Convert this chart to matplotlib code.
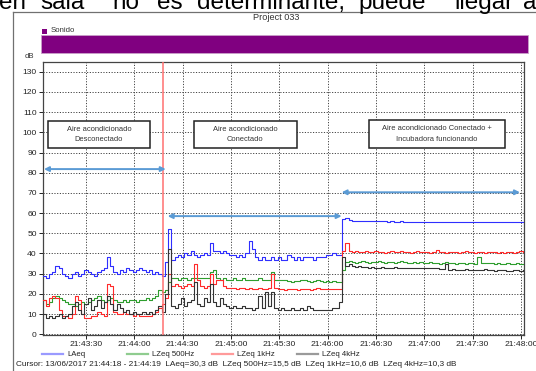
import numpy as np
import matplotlib
matplotlib.use("Agg")
import matplotlib.pyplot as plt
from matplotlib.patches import Rectangle
from matplotlib.lines import Line2D

plt.rcParams['font.family'] = ['Liberation Sans', 'DejaVu Sans']

# ---------------- data (seconds after 21:43:00) ----------------
seg_bounds = [(3, 77), (79, 187), (189, 301)]

laeq_1 = [29, 28, 30, 31, 34, 33, 30, 29, 28, 30, 31, 29, 30, 32, 31, 30, 29, 31, 32, 33,
          38, 34, 31, 30, 32, 31, 33, 32, 31, 32, 33, 32, 31, 32, 30, 31, 30, 29]
laeq_2 = [36, 52, 37, 38, 39, 38, 40, 39, 41, 39, 38, 39, 40, 39, 45, 41, 41, 40, 41, 40,
          39, 39, 38, 39, 38, 40, 46, 42, 38, 37, 38, 37, 37, 38, 37, 38, 37, 37, 39, 38,
          37, 38, 37, 38, 38, 38, 37, 38, 38, 38, 39, 39, 40, 39, 39]
laeq_3 = [57, 57.5, 56.5, 56, 56.2, 56, 56, 56.1, 56, 55.9, 56, 56, 55.9, 56, 55.8, 55.9,
          55.8, 55.8, 55.9, 55.8, 55.7, 55.8, 55.7, 55.8, 55.7, 55.7, 55.6, 55.7, 55.8, 55.7,
          55.6, 55.6, 55.7, 55.6, 55.6, 55.7, 55.6, 55.5, 55.6, 55.5, 55.6, 55.5, 55.5, 55.6,
          55.5, 55.5, 55.4, 55.5, 55.5, 55.4, 55.5, 55.4, 55.4, 55.5, 55.4, 55.4, 55.4]

z500_1 = [17, 15, 16, 18, 19, 18, 17, 16, 15, 15, 14, 15, 16, 15, 16, 17, 18, 19, 17, 16,
          17, 18, 17, 16, 16, 17, 16, 17, 17, 16, 17, 17, 18, 17, 18, 19, 22, 21]
z500_2 = [22, 26, 28, 28, 27, 28, 28, 27, 28, 28, 28, 28, 28, 28, 31, 32, 28, 27, 28, 27,
          27, 28, 27, 27, 28, 27, 27, 27, 27, 28, 27, 27, 27, 31, 27, 27, 27, 27, 26.5, 26,
          26.5, 26.5, 27, 27, 26.5, 26, 26.5, 27, 26.5, 26, 26.5, 26, 26.5, 26, 26]
z500_3 = [32, 36, 36.5, 36, 35.5, 36, 36.5, 36, 35.5, 36, 36, 36.5, 36, 35.5, 36, 36, 35.5,
          36, 36.5, 36, 35.5, 35.5, 36, 35.5, 36, 35.5, 35.5, 36, 35.5, 35.5, 35, 35.5, 36,
          35.5, 35.5, 35, 35.5, 35.5, 35, 35.5, 35.5, 35, 38, 35.5, 35.5, 35.5, 35.5, 35,
          35.5, 35, 35, 35.5, 35, 35, 35.5, 35, 35]

z1k_1 = [17, 14, 18, 19, 18, 12, 9, 9, 8, 10, 19, 17, 10, 8, 8, 9, 9, 11, 10, 9,
         25, 24, 11, 10, 10, 11, 10, 10, 9, 10, 9, 9, 9, 9, 10, 11, 13, 15]
z1k_2 = [18, 30, 24, 25, 24, 23, 24, 25, 24, 35, 27, 24, 23, 24, 30, 25, 27, 27, 24, 23,
         23, 23, 22.5, 23, 23, 22.5, 23, 22.5, 22.5, 23, 22.5, 22.5, 23, 30, 23, 22.5, 22.5,
         22, 22.5, 22.5, 22.5, 22, 22.5, 22.5, 22.5, 22, 22.5, 23, 22.5, 22.5, 22.5, 22.5,
         22.5, 22.5, 22.5]
z1k_3 = [41, 45, 41, 40.5, 41, 40.5, 40.5, 41, 40.5, 40.5, 41, 40.5, 40.5, 40, 40.5, 41,
         40.5, 40.5, 41, 40.5, 40.5, 40, 40.5, 41, 40.5, 40.5, 40.5, 40, 40.5, 41.5, 40.5,
         40.5, 40, 40.5, 40.5, 40.5, 40, 40.5, 41, 40.5, 40.5, 40, 40.5, 40.5, 40, 40.5,
         40.5, 40.5, 40, 40.5, 40, 40.5, 40.5, 40, 40.5, 41, 40.5]

z4k_1 = [10, 8, 9, 8, 9, 10, 8, 9, 10, 14, 16, 12, 10, 15, 18, 12, 14, 17, 13, 16,
         19, 15, 12, 15, 13, 11, 12, 10, 11, 10, 10, 11, 10, 11, 10, 12, 14, 11]
z4k_2 = [20, 42, 14, 13, 15, 18, 14, 16, 17, 26, 15, 14, 18, 16, 25, 16, 14, 18, 15, 14,
         13, 14, 13, 13, 14, 13, 13, 12, 13, 19, 13, 21, 14, 21, 13, 12, 13, 12, 12, 13,
         12, 12, 13, 12, 14, 13, 12, 12, 12, 12, 12, 12, 13, 13, 16]
z4k_3 = [38, 34, 35, 34, 33.5, 34, 33.5, 33.5, 33, 33.5, 33, 33, 33.5, 33, 33, 33, 33.5,
         33, 33, 33, 33, 33, 33, 33, 33, 33, 33, 33, 33, 33, 32.5, 32.5, 35, 32, 32.5, 32,
         32, 32, 32.5, 32, 32, 32, 32, 32, 32.5, 32, 32, 31.5, 32, 32, 32, 31.5, 31.5, 32,
         32, 31.5, 32]

series_names = ['LAeq', 'LZeq 500Hz', 'LZeq 1kHz', 'LZeq 4kHz']
series_segments = [[laeq_1, laeq_2, laeq_3], [z500_1, z500_2, z500_3],
                   [z1k_1, z1k_2, z1k_3], [z4k_1, z4k_2, z4k_3]]
line_colors = ['#2f2fff', '#2e9e2e', '#ff2a2a', '#333333']
legend_colors = ['#9a9aff', '#8fcc8f', '#ff9a9a', '#9a9a9a']

tick_secs = [30, 60, 90, 120, 150, 180, 210, 240, 270, 300]
tick_labels = ['21:43:30', '21:44:00', '21:44:30', '21:45:00', '21:45:30',
               '21:46:00', '21:46:30', '21:47:00', '21:47:30', '21:48:00']
cursor_sec = 78
cursor_text = ("Cursor: 13/06/2017 21:44:18 - 21:44:19  LAeq=30,3 dB  LZeq 500Hz=15,5 dB  "
               "LZeq 1kHz=10,6 dB  LZeq 4kHz=10,3 dB")

boxes = [((6.2, 92.2), (69.9, 105.6), "Aire acondicionado\nDesconectado"),
         ((97.0, 92.2), (160.8, 105.6), "Aire acondicionado\nConectado"),
         ((205.9, 92.2), (290.1, 105.9), "Aire acondicionado Conectado +\nIncubadora funcionando")]
arrows = [(3.9, 79.5, 81.8), (80.7, 188.7, 58.5), (188.7, 299.4, 70.3)]

# ---------------- figure ----------------
W, H = 536, 371
fig = plt.figure(figsize=(W / 100, H / 100), dpi=100)
fig.patch.set_facecolor('white')


def fx(x):
    return x / W


def fy(y):
    return 1 - y / H


# partial document text at top
words = ["en", "sala", "no", "es", "determinante,", "puede", "llegar", "a"]
word_x = [-1, 40, 112, 157, 197, 358, 454, 523]
for w, x in zip(words, word_x):
    fig.text(fx(x), fy(9), w, fontsize=17.5, va='baseline', ha='left', color='black')

# outer panel frame
fig.add_artist(Line2D([fx(13), fx(13)], [fy(12), fy(372)], color='#707070', lw=0.9))
fig.add_artist(Line2D([fx(13), fx(537)], [fy(12), fy(12)], color='#707070', lw=0.9))

fig.text(fx(276), fy(17), "Project 033", fontsize=6.6, ha='center', va='center', color='#333333')

# Sonido legend and bar
fig.add_artist(Rectangle((fx(42), fy(33.5)), 5 / W, 4.5 / H, facecolor='#800080',
                         edgecolor='none', transform=fig.transFigure))
fig.text(fx(51), fy(31), "Sonido", fontsize=5.6, ha='left', va='center', color='#333333')
fig.add_artist(Rectangle((fx(41), fy(53)), (528 - 41) / W, 18 / H, facecolor='#800080',
                         edgecolor='#c9a0c9', lw=0.6, transform=fig.transFigure))
fig.text(fx(29), fy(57), "dB", fontsize=5.6, ha='center', va='center', color='#333333')

# main axes
ax = fig.add_axes([fx(43), fy(335), (524.3 - 43) / W, (335 - 61.7) / H])
for name, segs, c in zip(series_names, series_segments, line_colors):
    ts, vs = [], []
    for (a, b), v in zip(seg_bounds, segs):
        ts.append(np.linspace(a, b, len(v)))
        vs.append(np.asarray(v, dtype=float))
    ax.plot(np.concatenate(ts), np.concatenate(vs), color=c, lw=0.8,
            drawstyle='steps-post', zorder=3)

ax.axvline(cursor_sec, color='#ff7070', lw=1.1, zorder=4)

ax.set_xlim(3.3, 302.1)
ax.set_ylim(-0.4, 135)
ax.set_xticks(tick_secs)
ax.set_xticklabels(tick_labels)
ax.set_yticks(np.arange(0, 131, 10))
ax.tick_params(axis='both', labelsize=6.1, colors='#222222', length=3, width=0.7, pad=1.5)
ax.grid(True, color='#444444', lw=0.7, linestyle=(0, (1.2, 1.6)))
ax.set_axisbelow(True)
for s in ax.spines.values():
    s.set_color('#444444')
    s.set_linewidth(0.9)

for (x0, y0), (x1, y1), txt in boxes:
    ax.add_patch(Rectangle((x0, y0), x1 - x0, y1 - y0, facecolor='white',
                           edgecolor='#222222', lw=1.1, zorder=5))
    ax.text((x0 + x1) / 2, (y0 + y1) / 2, txt, ha='center', va='center',
            fontsize=5.4, color='#333333', linespacing=1.75, zorder=6)

for x0, x1, y in arrows:
    ax.annotate('', xy=(x1, y), xytext=(x0, y),
                arrowprops=dict(arrowstyle='<|-|>', color='#5b9bd5', lw=1.4,
                                mutation_scale=7, shrinkA=0, shrinkB=0), zorder=6)

# bottom legend
leg_x = [42, 127, 212, 297]
for x, name, c in zip(leg_x, series_names, legend_colors):
    fig.add_artist(Line2D([fx(x), fx(x + 21)], [fy(354), fy(354)], color=c, lw=1.6))
    fig.text(fx(x + 25), fy(354), name, fontsize=5.6, ha='left', va='center', color='#222222')

ct = fig.text(fx(16), fy(365), cursor_text, fontsize=5.6, ha='left', va='center', color='#222222')
fig.canvas.draw()
bb = ct.get_window_extent()
ct.set_fontsize(5.6 * (457 - 16) / bb.width)

fig.savefig('out.png', dpi=100, facecolor='white')
